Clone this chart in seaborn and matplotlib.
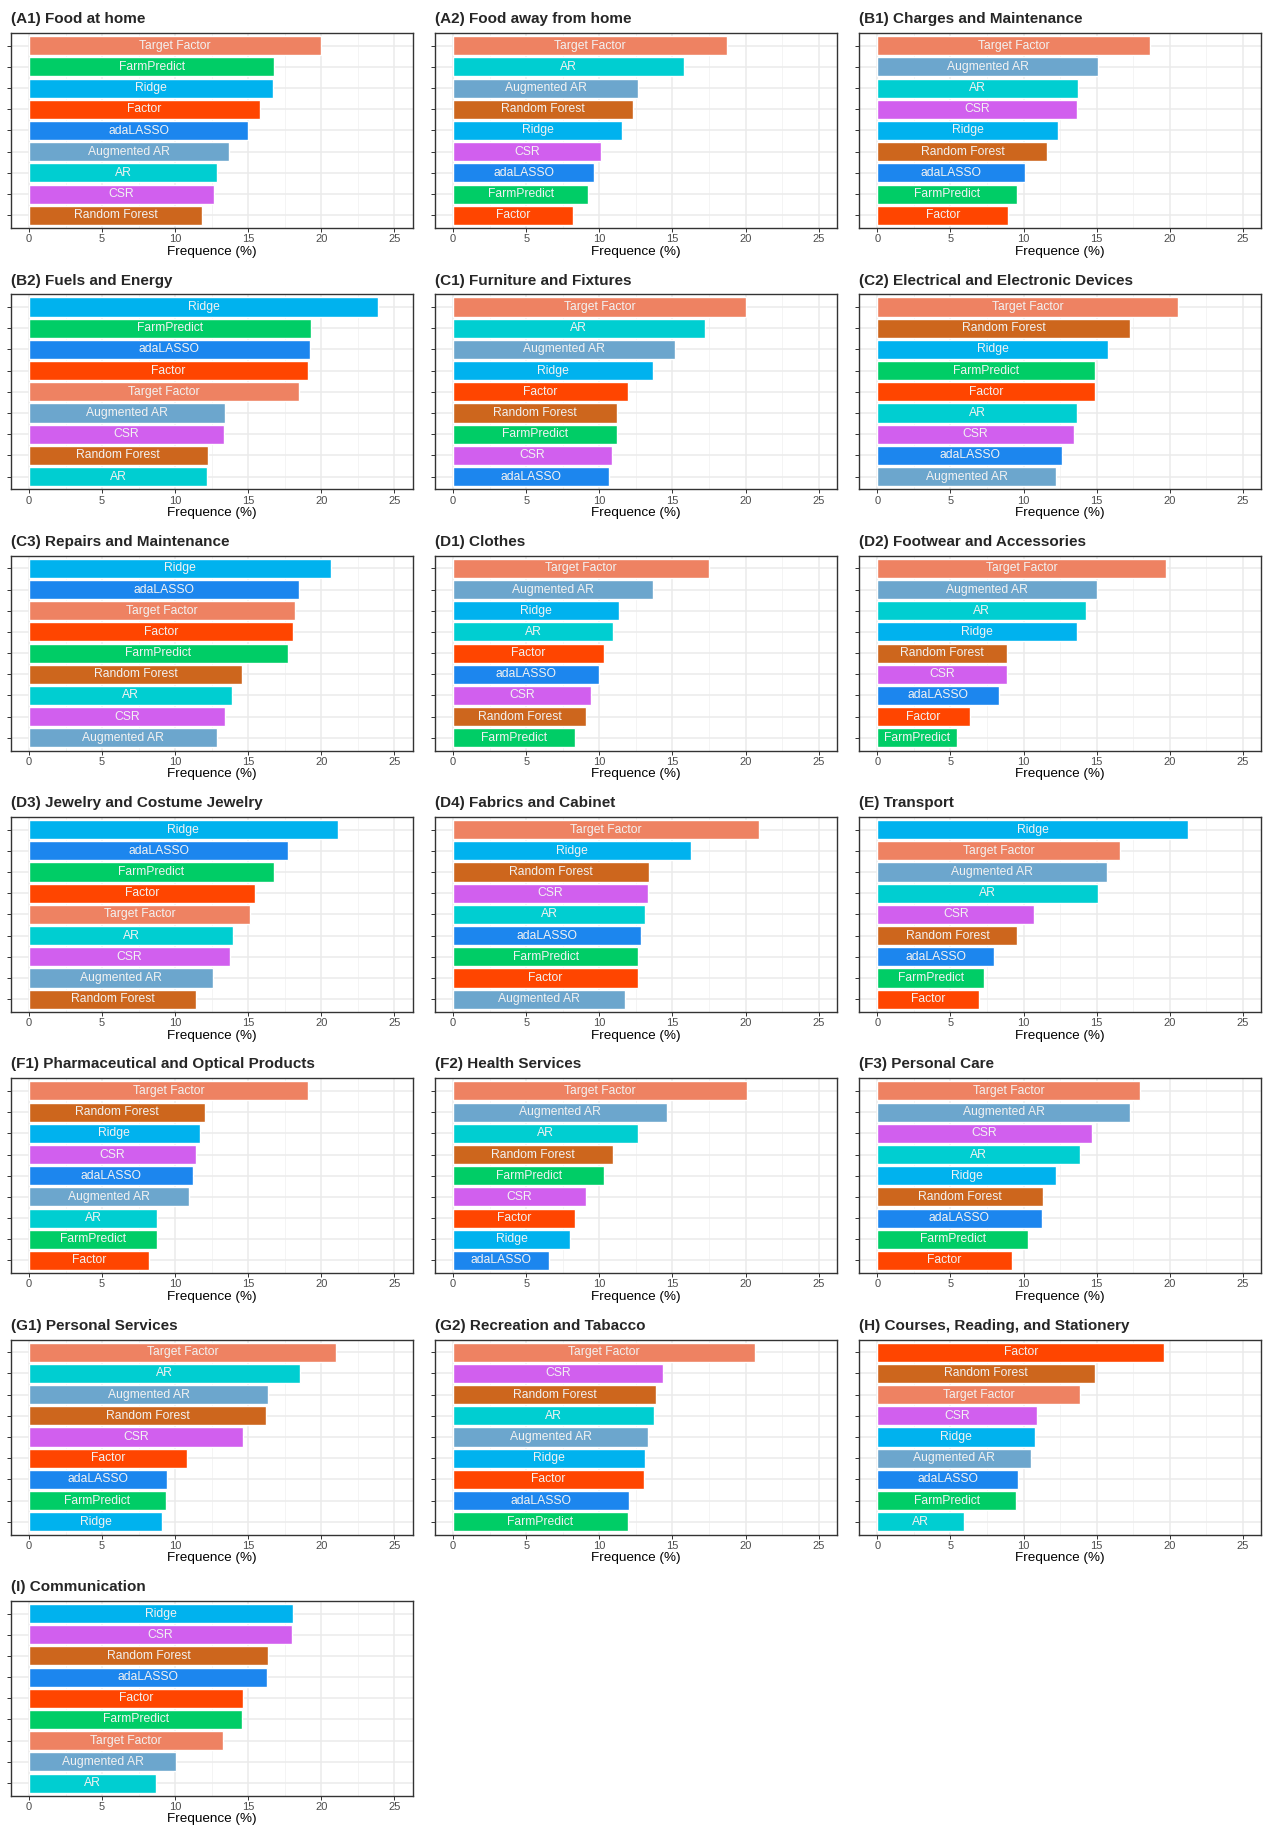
import matplotlib
matplotlib.use("Agg")
import matplotlib.pyplot as plt
import seaborn as sns
import pandas as pd
from matplotlib.ticker import MultipleLocator

# colours per method
palette = {
    "Target Factor": "#EE8262",
    "FarmPredict": "#00CD66",
    "Ridge": "#00B2EE",
    "Factor": "#FF4500",
    "adaLASSO": "#1C86EE",
    "Augmented AR": "#6CA6CD",
    "AR": "#00CED1",
    "CSR": "#D15FEE",
    "Random Forest": "#CD661D",
}

# each panel: methods from top to bottom, frequencies (%)
a1_methods = ["Target Factor", "FarmPredict", "Ridge", "Factor", "adaLASSO", "Augmented AR", "AR", "CSR", "Random Forest"]
a1_values = [20.0, 16.78, 16.71, 15.82, 15.0, 13.7, 12.88, 12.67, 11.85]
a2_methods = ["Target Factor", "AR", "Augmented AR", "Random Forest", "Ridge", "CSR", "adaLASSO", "FarmPredict", "Factor"]
a2_values = [18.72, 15.78, 12.64, 12.3, 11.54, 10.11, 9.63, 9.22, 8.2]
b1_methods = ["Target Factor", "Augmented AR", "AR", "CSR", "Ridge", "Random Forest", "adaLASSO", "FarmPredict", "Factor"]
b1_values = [18.67, 15.12, 13.75, 13.68, 12.39, 11.63, 10.13, 9.52, 8.97]
b2_methods = ["Ridge", "FarmPredict", "adaLASSO", "Factor", "Target Factor", "Augmented AR", "CSR", "Random Forest", "AR"]
b2_values = [23.9, 19.3, 19.2, 19.08, 18.47, 13.38, 13.33, 12.22, 12.17]
c1_methods = ["Target Factor", "AR", "Augmented AR", "Ridge", "Factor", "Random Forest", "FarmPredict", "CSR", "adaLASSO"]
c1_values = [20.0, 17.2, 15.2, 13.66, 11.95, 11.24, 11.22, 10.84, 10.67]
c2_methods = ["Target Factor", "Random Forest", "Ridge", "FarmPredict", "Factor", "AR", "CSR", "adaLASSO", "Augmented AR"]
c2_values = [20.58, 17.31, 15.76, 14.89, 14.87, 13.66, 13.44, 12.61, 12.22]
c3_methods = ["Ridge", "adaLASSO", "Target Factor", "Factor", "FarmPredict", "Random Forest", "AR", "CSR", "Augmented AR"]
c3_values = [20.63, 18.47, 18.2, 18.09, 17.7, 14.6, 13.88, 13.44, 12.83]
d1_methods = ["Target Factor", "Augmented AR", "Ridge", "AR", "Factor", "adaLASSO", "CSR", "Random Forest", "FarmPredict"]
d1_values = [17.48, 13.66, 11.34, 10.95, 10.29, 9.96, 9.46, 9.07, 8.35]
d2_methods = ["Target Factor", "Augmented AR", "AR", "Ridge", "Random Forest", "CSR", "adaLASSO", "Factor", "FarmPredict"]
d2_values = [19.75, 15.04, 14.27, 13.66, 8.86, 8.85, 8.3, 6.31, 5.42]
d3_methods = ["Ridge", "adaLASSO", "FarmPredict", "Factor", "Target Factor", "AR", "CSR", "Augmented AR", "Random Forest"]
d3_values = [21.13, 17.75, 16.76, 15.43, 15.15, 13.99, 13.72, 12.56, 11.45]
d4_methods = ["Target Factor", "Ridge", "Random Forest", "CSR", "AR", "adaLASSO", "FarmPredict", "Factor", "Augmented AR"]
d4_values = [20.91, 16.26, 13.38, 13.33, 13.11, 12.83, 12.67, 12.61, 11.78]
e_methods = ["Ridge", "Target Factor", "Augmented AR", "AR", "CSR", "Random Forest", "adaLASSO", "FarmPredict", "Factor"]
e_values = [21.26, 16.6, 15.72, 15.1, 10.73, 9.58, 7.99, 7.3, 6.95]
f1_methods = ["Target Factor", "Random Forest", "Ridge", "CSR", "adaLASSO", "Augmented AR", "AR", "FarmPredict", "Factor"]
f1_values = [19.08, 12.06, 11.67, 11.45, 11.23, 10.95, 8.79, 8.74, 8.24]
f2_methods = ["Target Factor", "Augmented AR", "AR", "Random Forest", "FarmPredict", "CSR", "Factor", "Ridge", "adaLASSO"]
f2_values = [20.08, 14.6, 12.67, 10.95, 10.34, 9.07, 8.3, 8.02, 6.53]
f3_methods = ["Target Factor", "Augmented AR", "CSR", "AR", "Ridge", "Random Forest", "adaLASSO", "FarmPredict", "Factor"]
f3_values = [17.98, 17.31, 14.66, 13.88, 12.22, 11.34, 11.23, 10.29, 9.18]
g1_methods = ["Target Factor", "AR", "Augmented AR", "Random Forest", "CSR", "Factor", "adaLASSO", "FarmPredict", "Ridge"]
g1_values = [21.02, 18.53, 16.37, 16.2, 14.66, 10.79, 9.46, 9.35, 9.13]
g2_methods = ["Target Factor", "CSR", "Random Forest", "AR", "Augmented AR", "Ridge", "Factor", "adaLASSO", "FarmPredict"]
g2_values = [20.63, 14.33, 13.88, 13.72, 13.33, 13.11, 13.05, 12.0, 11.95]
h_methods = ["Factor", "Random Forest", "Target Factor", "CSR", "Ridge", "Augmented AR", "adaLASSO", "FarmPredict", "AR"]
h_values = [19.63, 14.88, 13.88, 10.95, 10.79, 10.51, 9.62, 9.51, 5.92]
i_methods = ["Ridge", "CSR", "Random Forest", "adaLASSO", "Factor", "FarmPredict", "Target Factor", "Augmented AR", "AR"]
i_values = [18.08, 18.01, 16.37, 16.3, 14.66, 14.59, 13.29, 10.07, 8.7]

panels = [
    ("(A1) Food at home", a1_methods, a1_values),
    ("(A2) Food away from home", a2_methods, a2_values),
    ("(B1) Charges and Maintenance", b1_methods, b1_values),
    ("(B2) Fuels and Energy", b2_methods, b2_values),
    ("(C1) Furniture and Fixtures", c1_methods, c1_values),
    ("(C2) Electrical and Electronic Devices", c2_methods, c2_values),
    ("(C3) Repairs and Maintenance", c3_methods, c3_values),
    ("(D1) Clothes", d1_methods, d1_values),
    ("(D2) Footwear and Accessories", d2_methods, d2_values),
    ("(D3) Jewelry and Costume Jewelry", d3_methods, d3_values),
    ("(D4) Fabrics and Cabinet", d4_methods, d4_values),
    ("(E) Transport", e_methods, e_values),
    ("(F1) Pharmaceutical and Optical Products", f1_methods, f1_values),
    ("(F2) Health Services", f2_methods, f2_values),
    ("(F3) Personal Care", f3_methods, f3_values),
    ("(G1) Personal Services", g1_methods, g1_values),
    ("(G2) Recreation and Tabacco", g2_methods, g2_values),
    ("(H) Courses, Reading, and Stationery", h_methods, h_values),
    ("(I) Communication", i_methods, i_values),
]

sns.set_theme(style="whitegrid")
plt.rcParams["font.family"] = ["Liberation Sans", "DejaVu Sans"]

W, H = 1264, 1827
fig = plt.figure(figsize=(W / 100, H / 100), dpi=100)

for k, (title, methods, values) in enumerate(panels):
    r, c = divmod(k, 3)
    left = 10.7 + c * 424.2
    top = 33 + r * 261.3
    ax = fig.add_axes([left / W, 1 - (top + 195) / H, 402 / W, 195 / H])

    df = pd.DataFrame({"method": methods, "freq": values})
    sns.barplot(data=df, x="freq", y="method", hue="method", palette=palette,
                order=methods, width=0.9, legend=False, ax=ax, saturation=1)

    # method names centred inside the bars
    for j, (m, v) in enumerate(zip(methods, values)):
        ax.text(v / 2, j, m, ha="center", va="center", color="#F2F2F2", fontsize=8.7)

    ax.set_xlim(-1.25, 26.25)
    ax.set_ylim(len(methods) - 0.4, -0.6)
    ax.xaxis.set_major_locator(MultipleLocator(5))
    ax.xaxis.set_minor_locator(MultipleLocator(2.5))
    ax.grid(which="major", color="#EBEBEB", linewidth=1.1)
    ax.grid(which="minor", axis="x", color="#F2F2F2", linewidth=0.6)
    ax.set_axisbelow(True)
    ax.set_yticklabels([])
    ax.set_ylabel("")
    ax.set_xlabel("Frequence (%)", fontsize=9.7, labelpad=1, color="black")
    ax.tick_params(axis="both", which="major", length=3, width=0.7, color="#333333",
                   labelsize=8, labelcolor="#4D4D4D", pad=1.5, left=True, bottom=True)
    ax.tick_params(axis="x", which="minor", length=0)
    for s in ax.spines.values():
        s.set_visible(True)
        s.set_color("#333333")
        s.set_linewidth(1.0)
    ax.set_title(title, loc="left", fontsize=11, fontweight="bold", pad=7)

fig.savefig("out.png", dpi=100)
